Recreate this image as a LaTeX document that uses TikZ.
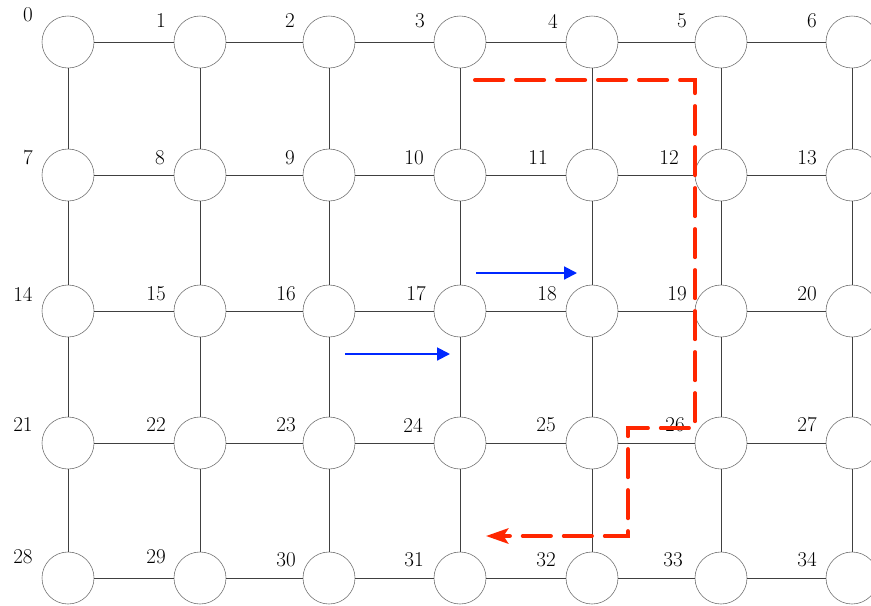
\documentclass[tikz,border=0pt]{standalone}
\usetikzlibrary{arrows.meta}
\definecolor{routered}{RGB}{255,38,0}
\definecolor{flowblue}{RGB}{0,40,255}
\tikzset{
  cell/.style={circle,draw=black!55,line width=0.5pt,fill=white,minimum size=1.56cm,inner sep=0pt},
  num/.style={font=\fontsize{18}{20}\selectfont,inner sep=0pt},
  link/.style={draw=black!75,line width=0.7pt},
  route/.style={draw=routered,line width=3.4pt,line cap=round,dash pattern=on 24pt off 11pt,-{Stealth[length=19pt,width=13pt,inset=4pt]}},
  flow/.style={draw=flowblue,line width=1.7pt,-{Triangle[length=11pt,width=11pt]}}
}
\begin{document}
\begin{tikzpicture}[x=0.03cm,y=-0.03cm]
			\useasboundingbox (0,0) rectangle (871,605);
			% grid of cells
			\foreach \y [count=\r from 0] in {42,175,311,443,578}
				\foreach \x [count=\c from 0] in {68,200,329,460,592,721,852} {
					\pgfmathtruncatemacro{\k}{7*\r+\c}
					\node[cell] (n\k) at (\x,\y) {};
				}
			% horizontal links
			\foreach \r in {0,...,4}
				\foreach \c in {0,...,5} {
					\pgfmathtruncatemacro{\a}{7*\r+\c}
					\pgfmathtruncatemacro{\b}{\a+1}
					\draw[link] (n\a) -- (n\b);
				}
			% vertical links
			\foreach \r in {0,...,3}
				\foreach \c in {0,...,6} {
					\pgfmathtruncatemacro{\a}{7*\r+\c}
					\pgfmathtruncatemacro{\b}{\a+7}
					\draw[link] (n\a) -- (n\b);
				}
			% cell numbers
			\foreach \k/\lx/\ly in {0/28/15,1/161/21,2/290/21,3/420/21,4/553/21,5/682/21,6/812/21,
				7/28/158,8/160/158,9/290/158,10/414/158,11/538/158,12/669/158,13/807/158,
				14/23/294,15/156/294,16/286/294,17/416/294,18/547/294,19/677/294,20/807/294,
				21/23/425,22/156/425,23/286/425,24/413/425,25/546/425,26/675/425,27/807/425,
				28/23/557,29/156/557,30/286/560,31/414/560,32/546/560,33/673/560,34/807/560}
				\node[num] (l\k) at (\lx,\ly) {\k};
			% flow arrows
			\coordinate (f1s) at (345,354);
			\coordinate (f1e) at (450,354);
			\coordinate (f2s) at (476,273);
			\coordinate (f2e) at (577,273);
			\draw[flow] (f1s) -- (f1e);
			\draw[flow] (f2s) -- (f2e);
			% route
			\coordinate (r0) at (475,80);
			\coordinate (r1) at (695,80);
			\coordinate (r2) at (695,428);
			\coordinate (r3) at (628,428);
			\coordinate (r4) at (628,536);
			\coordinate (r5) at (486,536);
			\draw[route] (r0) -- (r1) -- (r2) -- (r3) -- (r4) -- (r5);
		\end{tikzpicture}
\end{document}
